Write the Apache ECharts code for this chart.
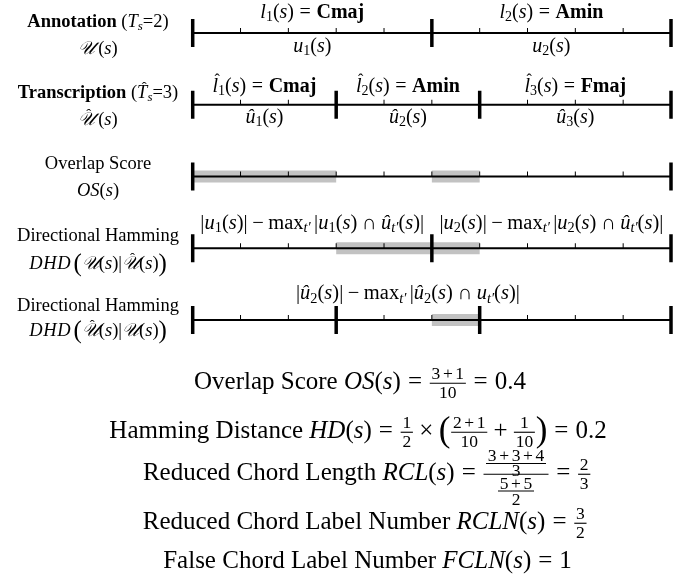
<!DOCTYPE html>
<html><head><meta charset="utf-8">
<script src="https://cdn.jsdelivr.net/npm/echarts@6/dist/echarts.min.js"></script>
<style>html,body{margin:0;padding:0;background:#fff}#c{width:695px;height:582px}</style>
</head><body><div id="c"></div>
<script>
// ---------------- data ----------------
const rowIndex = [0, 1, 2, 3, 4];
const timeMin = 0, timeMax = 10;
const boundaries = [[0, 5, 10], [0, 3, 6, 10], [0, 10], [0, 5, 10], [0, 3, 6, 10]];
const unitTicks = [1, 2, 3, 4, 5, 6, 7, 8, 9];
const overlapShade = [[0, 3], [5, 6]];
const dhdRefShade = [[3, 6]];
const dhdEstShade = [[5, 6]];
const annChords = ['Cmaj', 'Amin'];
const trChords = ['Cmaj', 'Amin', 'Fmaj'];

// ---------------- math text layout ----------------
const FAM = '"Liberation Serif","DejaVu Serif",serif';
const cv = document.createElement('canvas');
const ctx = cv.getContext('2d');
function fontStr(st, size) {
  const it = (st === 'it' || st === 'cal');
  const bf = (st === 'bf');
  return (it ? 'italic ' : '') + (bf ? 'bold ' : '') + size.toFixed(2) + 'px ' + FAM;
}
function tw(t, f) { ctx.font = f; return ctx.measureText(t).width; }
function shift(it, dx, ddy) {
  const o = Object.assign({}, it);
  if (o.type === 'line') { o.x1 += dx; o.x2 += dx; } else { o.x += dx; }
  o.dy += ddy; return o;
}
function frac(num, den, opt) { return Object.assign({ frac: true, num, den }, opt || {}); }
function lay(pieces, S) {
  let x = 0; const items = [];
  for (const p of pieces) {
    if (p.frac) {
      const sc = p.sc || 0.7, S2 = S * sc;
      const n = lay(p.num, S2), d = lay(p.den, S2);
      const pad = 0.1 * S;
      const fw = Math.max(n.w, d.w) + pad * 2;
      const bar = (p.bar != null ? p.bar : 0.05) * S;
      const nOff = (p.nOff != null ? p.nOff : 0.36) * S;
      const dOff = (p.dOff != null ? p.dOff : 0.40) * S;
      items.push({ type: 'line', x1: x + 0.03 * S, x2: x + fw - 0.03 * S, dy: bar, lw: Math.max(0.8, S * 0.045) });
      n.items.forEach(it => items.push(shift(it, x + (fw - n.w) / 2, bar - nOff)));
      d.items.forEach(it => items.push(shift(it, x + (fw - d.w) / 2, bar + dOff)));
      x += fw; continue;
    }
    const k = p[0], t = p[1], a = p[2];
    if (k === 'sp') { x += t * S; continue; }
    let size = S, dy = 0, st = k;
    if (k === 'sb') { size = S * 0.7; dy = 0.24 * S; st = a || 'it'; }
    if (k === 'big') { size = S * a; st = 'rm'; dy = 0.02 * S; }
    if (k === 'hat') { st = a || 'it'; }
    const f = fontStr(st, size);
    const w = tw(t, f);
    items.push({ type: 'text', x, dy, text: t, font: f });
    if (k === 'hat') {
      const hf = fontStr('rm', S * 0.8); const hw = tw('ˆ', hf);
      items.push({ type: 'text', x: x + w / 2 - hw / 2 + 0.1 * S, dy: -0.28 * S, text: 'ˆ', font: hf });
    }
    x += w;
  }
  return { w: x, items };
}
const graphics = [];
function place(pieces, S, ax, cy, align) {
  const L = lay(pieces, S);
  const x0 = align === 'left' ? ax : ax - L.w / 2;
  L.items.forEach(it => {
    if (it.type === 'line') {
      graphics.push({ type: 'line', silent: true, shape: { x1: x0 + it.x1, y1: cy + it.dy, x2: x0 + it.x2, y2: cy + it.dy }, style: { stroke: '#000', lineWidth: it.lw } });
    } else {
      graphics.push({ type: 'text', silent: true, x: x0 + it.x, y: cy + it.dy,
        style: { text: it.text, font: it.font, fill: '#000', align: 'left', verticalAlign: 'middle', textAlign: 'left', textVerticalAlign: 'middle' } });
    }
  });
}
const S_ = () => [['rm', '('], ['it', 's'], ['rm', ')']];

// ---------------- chart ----------------
const chart = echarts.init(document.getElementById('c'), null, { renderer: 'canvas' });
const shadeData = [].concat(
  overlapShade.map(s => [s[0], 2, s[1]]),
  dhdRefShade.map(s => [s[0], 3, s[1]]),
  dhdEstShade.map(s => [s[0], 4, s[1]])
);
const baseData = rowIndex.map(r => [timeMin, r, timeMax]);
const smallTickData = [];
rowIndex.forEach(r => unitTicks.forEach(t => smallTickData.push([t, r])));
const bigTickData = [];
boundaries.forEach((b, r) => b.forEach(t => bigTickData.push([t, r])));

chart.setOption({
  animation: false,
  backgroundColor: '#fff',
  grid: { left: 192.7, top: 33, width: 478.3, height: 287 },
  xAxis: { type: 'value', min: timeMin, max: timeMax, show: false },
  yAxis: { type: 'value', min: 0, max: 4, inverse: true, show: false },
  series: [
    { type: 'custom', data: shadeData, encode: { x: [0, 2], y: 1 }, silent: true,
      renderItem: (params, api) => {
        const a = api.coord([api.value(0), api.value(1)]);
        const b = api.coord([api.value(2), api.value(1)]);
        return { type: 'rect', shape: { x: a[0], y: a[1] - 6, width: b[0] - a[0], height: 12 }, style: { fill: '#c2c2c2' } };
      } },
    { type: 'custom', data: baseData, encode: { x: [0, 2], y: 1 }, silent: true,
      renderItem: (params, api) => {
        const a = api.coord([api.value(0), api.value(1)]);
        const b = api.coord([api.value(2), api.value(1)]);
        return { type: 'line', shape: { x1: a[0], y1: a[1], x2: b[0], y2: b[1] }, style: { stroke: '#000', lineWidth: 2 } };
      } },
    { type: 'custom', data: smallTickData, encode: { x: 0, y: 1 }, silent: true,
      renderItem: (params, api) => {
        const a = api.coord([api.value(0), api.value(1)]);
        return { type: 'line', shape: { x1: a[0], y1: a[1] - 5, x2: a[0], y2: a[1] }, style: { stroke: '#000', lineWidth: 1 } };
      } },
    { type: 'custom', data: bigTickData, encode: { x: 0, y: 1 }, silent: true,
      renderItem: (params, api) => {
        const a = api.coord([api.value(0), api.value(1)]);
        return { type: 'line', shape: { x1: a[0], y1: a[1] - 14, x2: a[0], y2: a[1] + 14 }, style: { stroke: '#000', lineWidth: 3.5 } };
      } }
  ]
});

const px = (t, r) => chart.convertToPixel({ gridIndex: 0 }, [t, r]);

// ---- left row labels ----
const SL = 18.5, LX = 98;
const U = ['cal', '𝒰'];
const Uh = ['hat', '𝒰', 'cal'];
place([['bf', 'Annotation'], ['rm', ' ('], ['it', 'T'], ['sb', 's'], ['rm', '=2)']], SL, LX, 22, 'center');
place([U, ['sp', 0.15], ...S_()], SL, LX, 49, 'center');
place([['bf', 'Transcription'], ['rm', ' ('], ['hat', 'T'], ['sb', 's'], ['rm', '=3)']], SL, LX, 93, 'center');
place([Uh, ['sp', 0.15], ...S_()], SL, LX, 120, 'center');
place([['rm', 'Overlap Score']], SL, LX, 164, 'center');
place([['it', 'OS'], ...S_()], SL, LX, 191, 'center');
place([['rm', 'Directional Hamming']], SL, LX, 236, 'center');
place([['it', 'D'], ['sp', 0.04], ['it', 'H'], ['sp', 0.04], ['it', 'D'], ['sp', 0.15], ['big', '(', 1.35], U, ...S_(), ['rm', '|'], Uh, ...S_(), ['big', ')', 1.35]], SL, LX, 264, 'center');
place([['rm', 'Directional Hamming']], SL, LX, 306, 'center');
place([['it', 'D'], ['sp', 0.04], ['it', 'H'], ['sp', 0.04], ['it', 'D'], ['sp', 0.15], ['big', '(', 1.35], Uh, ...S_(), ['rm', '|'], U, ...S_(), ['big', ')', 1.35]], SL, LX, 331, 'center');

// ---- segment labels ----
const SS = 20, SD = 20.5;
const eqSp = ['sp', 0.28];
annChords.forEach((c, i) => {
  const mid = (boundaries[0][i] + boundaries[0][i + 1]) / 2;
  const p = px(mid, 0);
  place([['it', 'l'], ['sb', String(i + 1), 'rm'], ...S_(), eqSp, ['rm', '='], eqSp, ['bf', c]], SS, p[0], p[1] - 20, 'center');
  place([['it', 'u'], ['sb', String(i + 1), 'rm'], ...S_()], SS, p[0], p[1] + 14, 'center');
});
trChords.forEach((c, i) => {
  const mid = (boundaries[1][i] + boundaries[1][i + 1]) / 2;
  const p = px(mid, 1);
  place([['hat', 'l'], ['sb', String(i + 1), 'rm'], ...S_(), eqSp, ['rm', '='], eqSp, ['bf', c]], SS, p[0], p[1] - 18, 'center');
  place([['it', 'û'], ['sb', String(i + 1), 'rm'], ...S_()], SS, p[0], p[1] + 13, 'center');
});
const mSp = ['sp', 0.22];
[0, 1].forEach(i => {
  const mid = (boundaries[3][i] + boundaries[3][i + 1]) / 2;
  const p = px(mid, 3);
  const n = String(i + 1);
  place([['rm', '|'], ['it', 'u'], ['sb', n, 'rm'], ...S_(), ['rm', '|'], mSp, ['rm', '−'], mSp, ['rm', 'max'], ['sb', 't′'], ['sp', 0.17],
    ['rm', '|'], ['it', 'u'], ['sb', n, 'rm'], ...S_(), mSp, ['rm', '∩'], mSp, ['it', 'û'], ['sb', 't′'], ...S_(), ['rm', '|']], SD, p[0], p[1] - 25, 'center');
});
{
  const mid = (boundaries[4][1] + boundaries[4][2]) / 2;
  const p = px(mid, 4);
  place([['rm', '|'], ['it', 'û'], ['sb', '2', 'rm'], ...S_(), ['rm', '|'], mSp, ['rm', '−'], mSp, ['rm', 'max'], ['sb', 't′'], ['sp', 0.17],
    ['rm', '|'], ['it', 'û'], ['sb', '2', 'rm'], ...S_(), mSp, ['rm', '∩'], mSp, ['it', 'u'], ['sb', 't′'], ...S_(), ['rm', '|']], SD, p[0], p[1] - 26, 'center');
}

// ---- equations ----
const SE = 25;
const eq = ['rm', '='];
const pl = (a, b) => [['rm', a], ['sp', 0.15], ['rm', '+'], ['sp', 0.15], ['rm', b]];
place([['rm', 'Overlap Score '], ['it', 'OS'], ...S_(), eqSp, eq, eqSp,
  frac(pl('3', '1'), [['rm', '10']]), eqSp, eq, eqSp, ['rm', '0.4']], SE, 360, 382, 'center');
place([['rm', 'Hamming Distance '], ['it', 'HD'], ...S_(), eqSp, eq, eqSp,
  frac([['rm', '1']], [['rm', '2']]), mSp, ['rm', '×'], mSp, ['big', '(', 1.4],
  frac(pl('2', '1'), [['rm', '10']]), mSp, ['rm', '+'], mSp, frac([['rm', '1']], [['rm', '10']]),
  ['big', ')', 1.4], eqSp, eq, eqSp, ['rm', '0.2']], SE, 358, 431, 'center');
place([['rm', 'Reduced Chord Length '], ['it', 'RCL'], ...S_(), eqSp, eq, eqSp,
  frac([frac([['rm', '3'], ['sp', 0.15], ['rm', '+'], ['sp', 0.15], ['rm', '3'], ['sp', 0.15], ['rm', '+'], ['sp', 0.15], ['rm', '4']], [['rm', '3']], { sc: 0.7, nOff: 0.28, dOff: 0.31 })],
       [frac(pl('5', '5'), [['rm', '2']], { sc: 0.7, nOff: 0.28, dOff: 0.38 })],
       { sc: 1, nOff: 0.48, dOff: 0.62 }),
  eqSp, eq, eqSp, frac([['rm', '2']], [['rm', '3']])], SE, 367, 473, 'center');
place([['rm', 'Reduced Chord Label Number '], ['it', 'RCLN'], ...S_(), eqSp, eq, eqSp,
  frac([['rm', '3']], [['rm', '2']])], SE, 365, 522, 'center');
place([['rm', 'False Chord Label Number '], ['it', 'FCLN'], ...S_(), eqSp, eq, eqSp, ['rm', '1']], SE, 367.5, 561, 'center');

chart.setOption({ graphic: { elements: graphics } });
</script>
</body></html>
